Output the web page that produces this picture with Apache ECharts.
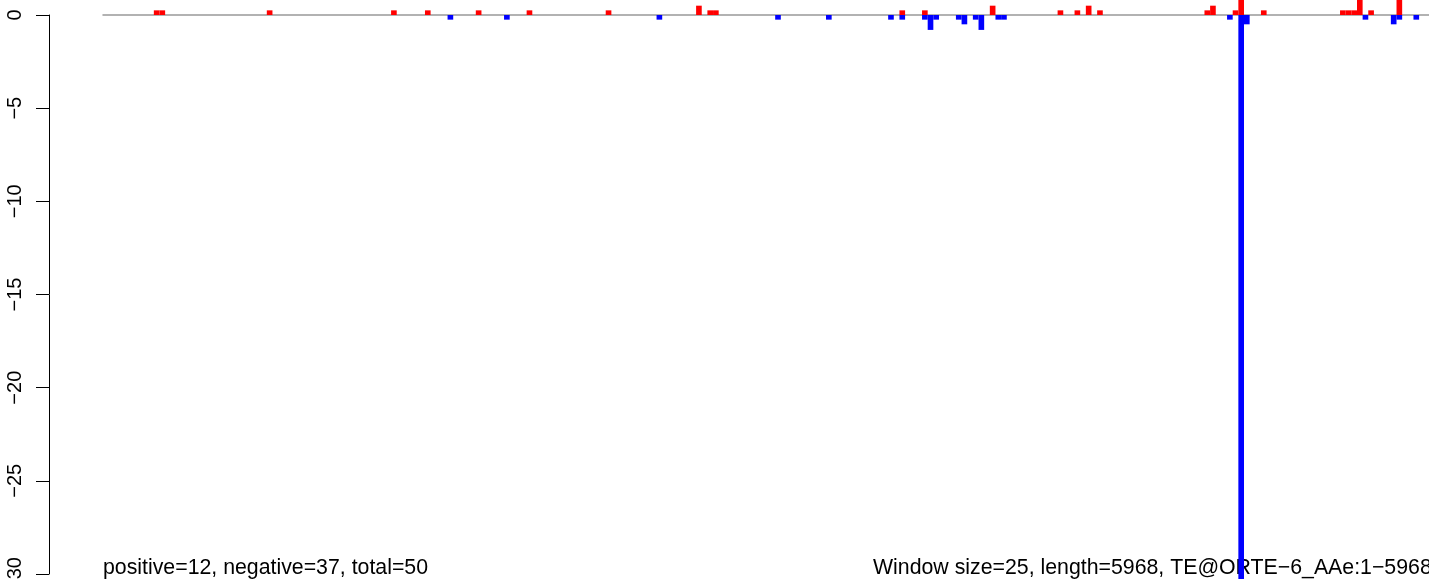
<!DOCTYPE html>
<html>
<head>
<meta charset="utf-8">
<script src="https://cdn.jsdelivr.net/npm/echarts@6/dist/echarts.min.js"></script>
<style>
html,body{margin:0;padding:0;background:#fff;}
#chart{width:1429px;height:579px;}
</style>
</head>
<body>
<div id="chart"></div>
<script>
// number of windows (length 5968 / window size 25)
const windowCount = 239;
// positive windows: [window index, value]
const positiveBars = [
  [9,0.25],[10,0.25],[29,0.25],[51,0.25],[57,0.25],[66,0.25],[75,0.25],[89,0.25],
  [105,0.5],[107,0.25],[108,0.25],[141,0.25],[145,0.25],[157,0.5],[169,0.25],
  [172,0.25],[174,0.5],[176,0.25],[195,0.25],[196,0.5],[200,0.25],[201,1],
  [205,0.25],[219,0.25],[220,0.25],[221,0.25],[222,1],[224,0.25],[229,1]
];
// negative windows: [window index, value]
const negativeBars = [
  [61,-0.25],[71,-0.25],[98,-0.25],[119,-0.25],[128,-0.25],[139,-0.25],[141,-0.25],
  [145,-0.25],[146,-0.8],[147,-0.25],[151,-0.25],[152,-0.5],[154,-0.25],[155,-0.8],
  [158,-0.25],[159,-0.25],[199,-0.25],[201,-31],[202,-0.5],[223,-0.25],[228,-0.5],
  [229,-0.25],[232,-0.25]
];
const yTicks = [0,-5,-10,-15,-20,-25,-30];
const leftNote = 'positive=12, negative=37, total=50';
const rightNote = 'Window size=25, length=5968, TE@ORTE\u22126_AAe:1\u22125968';

const categories = [];
for (let i = 0; i < windowCount; i++) categories.push(String(i + 1));
function fill(pairs) {
  const arr = new Array(windowCount).fill(0);
  pairs.forEach(p => { arr[p[0]] = p[1]; });
  return arr;
}
const posData = fill(positiveBars);
const negData = fill(negativeBars);

const chart = echarts.init(document.getElementById('chart'), null, {renderer: 'canvas'});
const font = '"Liberation Sans", Arial, Helvetica, sans-serif';
chart.setOption({
  animation: false,
  backgroundColor: '#ffffff',
  grid: {left: 103, top: 15, width: 1350, bottom: 5, containLabel: false, outerBoundsMode: 'none'},
  xAxis: {
    type: 'category',
    data: categories,
    axisLine: {show: true, onZero: true, lineStyle: {color: '#999999', width: 1.5}},
    axisTick: {show: false},
    axisLabel: {show: false},
    splitLine: {show: false}
  },
  yAxis: {
    type: 'value',
    min: Math.min(...yTicks),
    max: Math.max(...yTicks),
    interval: 5,
    offset: 54,
    axisLine: {show: true, onZero: false, lineStyle: {color: '#000', width: 1}},
    axisTick: {show: true, inside: false, length: 13, lineStyle: {color: '#000', width: 1}},
    axisLabel: {
      show: true, rotate: 90, margin: 24, color: '#000', fontSize: 20, fontFamily: font,
      formatter: v => String(v).replace('-', '\u2212')
    },
    splitLine: {show: false}
  },
  series: [
    {
      name: 'positive', type: 'bar', stack: 'w', data: posData,
      barCategoryGap: '0%', clip: false,
      itemStyle: {color: '#ff0000'}
    },
    {
      name: 'negative', type: 'bar', stack: 'w', data: negData,
      barCategoryGap: '0%', clip: false,
      itemStyle: {color: '#0000ff'}
    }
  ],
  graphic: [
    {type: 'text', left: 103, top: 558, z: 0,
     style: {text: leftNote, fill: '#000', font: '21.3px ' + font}},
    {type: 'text', left: 873, top: 558, z: 0,
     style: {text: rightNote, fill: '#000', font: '21.3px ' + font}}
  ]
});
</script>
</body>
</html>
